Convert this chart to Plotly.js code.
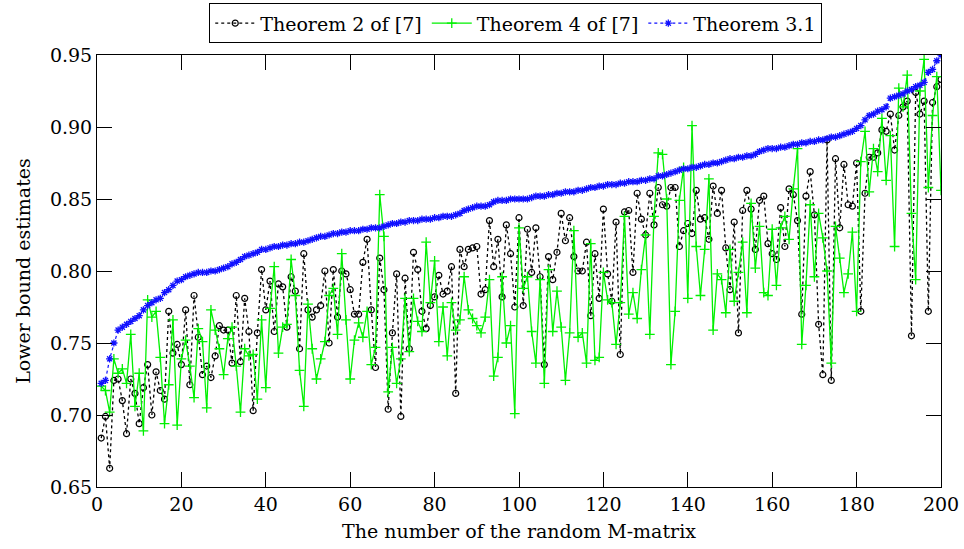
<!DOCTYPE html>
<html>
<head>
<meta charset="utf-8">
<script src="https://cdn.plot.ly/plotly-3.0.1.min.js"></script>
<style>
  html, body { margin: 0; padding: 0; background: #fff; }
  #chart { width: 964px; height: 549px; }
</style>
</head>
<body>
<div id="chart"></div>
<script>
// Lower bound estimates for 200 random M-matrices
const theorem2 = [
  0.684,0.699,0.663,0.724,0.725,0.710,0.687,0.725,0.715,0.694,
  0.719,0.735,0.700,0.730,0.717,0.711,0.772,0.743,0.749,0.735,
  0.773,0.721,0.783,0.754,0.728,0.734,0.726,0.741,0.762,0.759,
  0.759,0.736,0.783,0.737,0.781,0.758,0.703,0.757,0.801,0.773,
  0.793,0.758,0.791,0.789,0.761,0.796,0.786,0.746,0.812,0.773,
  0.768,0.773,0.776,0.800,0.750,0.801,0.768,0.800,0.798,0.787,
  0.770,0.770,0.806,0.822,0.773,0.733,0.809,0.787,0.704,0.757,
  0.798,0.699,0.795,0.746,0.813,0.801,0.772,0.760,0.776,0.782,
  0.797,0.784,0.786,0.803,0.715,0.815,0.803,0.815,0.816,0.817,
  0.784,0.787,0.835,0.803,0.822,0.782,0.832,0.812,0.775,0.837,
  0.776,0.829,0.799,0.830,0.796,0.735,0.810,0.794,0.813,0.840,
  0.821,0.837,0.810,0.800,0.800,0.820,0.769,0.812,0.781,0.843,
  0.798,0.779,0.834,0.742,0.841,0.842,0.799,0.854,0.836,0.825,
  0.854,0.832,0.858,0.846,0.845,0.858,0.858,0.817,0.828,0.833,
  0.826,0.856,0.836,0.837,0.822,0.859,0.840,0.856,0.816,0.787,
  0.834,0.757,0.842,0.856,0.843,0.815,0.849,0.852,0.819,0.812,
  0.808,0.844,0.817,0.857,0.853,0.835,0.770,0.852,0.869,0.839,
  0.763,0.728,0.891,0.724,0.878,0.830,0.874,0.846,0.845,0.875,
  0.772,0.854,0.879,0.879,0.882,0.898,0.897,0.909,0.884,0.908,
  0.914,0.918,0.755,0.924,0.909,0.918,0.772,0.917,0.928,0.933
];
const theorem4 = [
  0.720,0.717,0.702,0.739,0.729,0.732,0.722,0.756,0.706,0.729,
  0.689,0.780,0.768,0.772,0.740,0.694,0.721,0.766,0.693,0.739,
  0.752,0.734,0.712,0.760,0.751,0.705,0.773,0.759,0.746,0.728,
  0.753,0.761,0.734,0.702,0.746,0.741,0.742,0.711,0.766,0.719,
  0.774,0.803,0.743,0.761,0.763,0.808,0.783,0.731,0.706,0.777,
  0.746,0.725,0.739,0.751,0.783,0.788,0.756,0.812,0.766,0.725,
  0.752,0.764,0.754,0.772,0.735,0.747,0.853,0.824,0.716,0.747,
  0.722,0.739,0.781,0.744,0.781,0.765,0.758,0.820,0.778,0.807,
  0.751,0.775,0.741,0.778,0.759,0.766,0.796,0.773,0.767,0.762,
  0.757,0.768,0.794,0.727,0.740,0.796,0.750,0.762,0.701,0.830,
  0.788,0.796,0.758,0.736,0.794,0.722,0.801,0.758,0.786,0.761,
  0.724,0.757,0.828,0.754,0.757,0.736,0.819,0.738,0.740,0.799,
  0.780,0.778,0.749,0.778,0.838,0.770,0.785,0.767,0.801,0.825,
  0.756,0.838,0.882,0.881,0.850,0.735,0.772,0.849,0.872,0.781,
  0.901,0.817,0.783,0.815,0.864,0.759,0.798,0.794,0.771,0.815,
  0.779,0.799,0.820,0.771,0.847,0.802,0.831,0.785,0.783,0.829,
  0.790,0.830,0.838,0.822,0.857,0.885,0.749,0.790,0.846,0.796,
  0.840,0.823,0.800,0.736,0.831,0.809,0.785,0.798,0.827,0.772,
  0.876,0.897,0.855,0.885,0.869,0.906,0.863,0.894,0.817,0.927,
  0.914,0.936,0.840,0.794,0.925,0.947,0.858,0.908,0.935,0.856
];
const theorem31 = [
  0.722,0.724,0.739,0.750,0.759,0.761,0.763,0.765,0.767,0.769,
  0.773,0.776,0.778,0.780,0.781,0.785,0.787,0.790,0.793,0.794,
  0.796,0.797,0.798,0.799,0.799,0.799,0.800,0.800,0.801,0.802,
  0.803,0.805,0.806,0.808,0.810,0.811,0.812,0.813,0.815,0.815,
  0.816,0.817,0.817,0.818,0.818,0.819,0.819,0.820,0.820,0.821,
  0.822,0.823,0.824,0.824,0.825,0.826,0.826,0.827,0.827,0.828,
  0.828,0.828,0.829,0.829,0.830,0.830,0.830,0.831,0.832,0.833,
  0.833,0.834,0.834,0.835,0.835,0.835,0.836,0.836,0.836,0.837,
  0.837,0.838,0.838,0.838,0.839,0.840,0.842,0.843,0.844,0.845,
  0.845,0.845,0.846,0.848,0.849,0.849,0.849,0.850,0.850,0.850,
  0.850,0.850,0.851,0.852,0.852,0.852,0.853,0.853,0.854,0.854,
  0.855,0.855,0.855,0.856,0.856,0.857,0.858,0.858,0.859,0.859,
  0.860,0.860,0.860,0.861,0.861,0.862,0.862,0.862,0.863,0.863,
  0.864,0.864,0.866,0.866,0.867,0.868,0.869,0.870,0.871,0.871,
  0.872,0.872,0.873,0.874,0.874,0.875,0.875,0.876,0.877,0.878,
  0.878,0.879,0.879,0.880,0.880,0.881,0.883,0.884,0.885,0.885,
  0.885,0.886,0.886,0.887,0.888,0.888,0.889,0.889,0.890,0.890,
  0.891,0.891,0.892,0.893,0.893,0.894,0.895,0.896,0.897,0.899,
  0.901,0.905,0.908,0.909,0.911,0.912,0.914,0.920,0.921,0.922,
  0.923,0.925,0.926,0.928,0.929,0.931,0.938,0.940,0.946,0.950
];
const seriesNames = ["Theorem 2 of [7]", "Theorem 4 of [7]", "Theorem 3.1"];
const xTicks = [0, 20, 40, 60, 80, 100, 120, 140, 160, 180, 200];
const yTicks = [0.65, 0.70, 0.75, 0.80, 0.85, 0.90, 0.95];

const matrixNumber = theorem2.map((_, k) => k + 1);
const FONT = "DejaVu Serif, Liberation Serif, serif";
const FS = 19;

const traces = [
  {
    x: matrixNumber, y: theorem2, name: seriesNames[0], type: "scatter", mode: "lines+markers",
    line: { color: "black", width: 1.3, dash: "dot" },
    marker: { symbol: "circle-open", size: 6, color: "black", line: { width: 1.2, color: "black" } }
  },
  {
    x: matrixNumber, y: theorem4, name: seriesNames[1], type: "scatter", mode: "lines+markers",
    line: { color: "#00f000", width: 1.3 },
    marker: { symbol: "cross-thin-open", size: 7, color: "#00f000", line: { width: 1.3, color: "#00f000" } }
  },
  {
    x: matrixNumber, y: theorem31, name: seriesNames[2], type: "scatter", mode: "lines+markers",
    line: { color: "#1010ff", width: 1.2, dash: "dot" },
    marker: { symbol: "asterisk-open", size: 6, color: "#1010ff", line: { width: 1.3, color: "#1010ff" } }
  }
];

const axisCommon = {
  showgrid: false, zeroline: false, showline: true, linecolor: "black", linewidth: 1,
  mirror: "ticks", ticks: "inside", ticklen: 15, tickcolor: "black", tickwidth: 1,
  tickfont: { family: FONT, size: FS, color: "black" }
};

const layout = {
  width: 964, height: 549,
  margin: { l: 97, r: 23, t: 55, b: 62 },
  paper_bgcolor: "white", plot_bgcolor: "white",
  font: { family: FONT, size: FS, color: "black" },
  showlegend: true,
  legend: {
    orientation: "h", x: 0.535, xref: "container", xanchor: "center",
    y: 0.994, yref: "container", yanchor: "top",
    bordercolor: "black", borderwidth: 1, bgcolor: "white",
    font: { family: FONT, size: FS, color: "black" },
    itemwidth: 40
  },
  xaxis: Object.assign({}, axisCommon, {
    range: [0, 200], tickvals: xTicks, ticktext: xTicks.map(String),
    automargin: false,
    title: { text: "The number of the random M-matrix", font: { family: FONT, size: FS }, standoff: 10 }
  }),
  yaxis: Object.assign({}, axisCommon, {
    range: [0.65, 0.95], tickvals: yTicks, ticktext: yTicks.map(v => v.toFixed(2)),
    automargin: false,
    title: { text: "Lower bound estimates", font: { family: FONT, size: FS }, standoff: 14 }
  })
};

Plotly.newPlot("chart", traces, layout, { displayModeBar: false, staticPlot: true });
</script>
</body>
</html>
